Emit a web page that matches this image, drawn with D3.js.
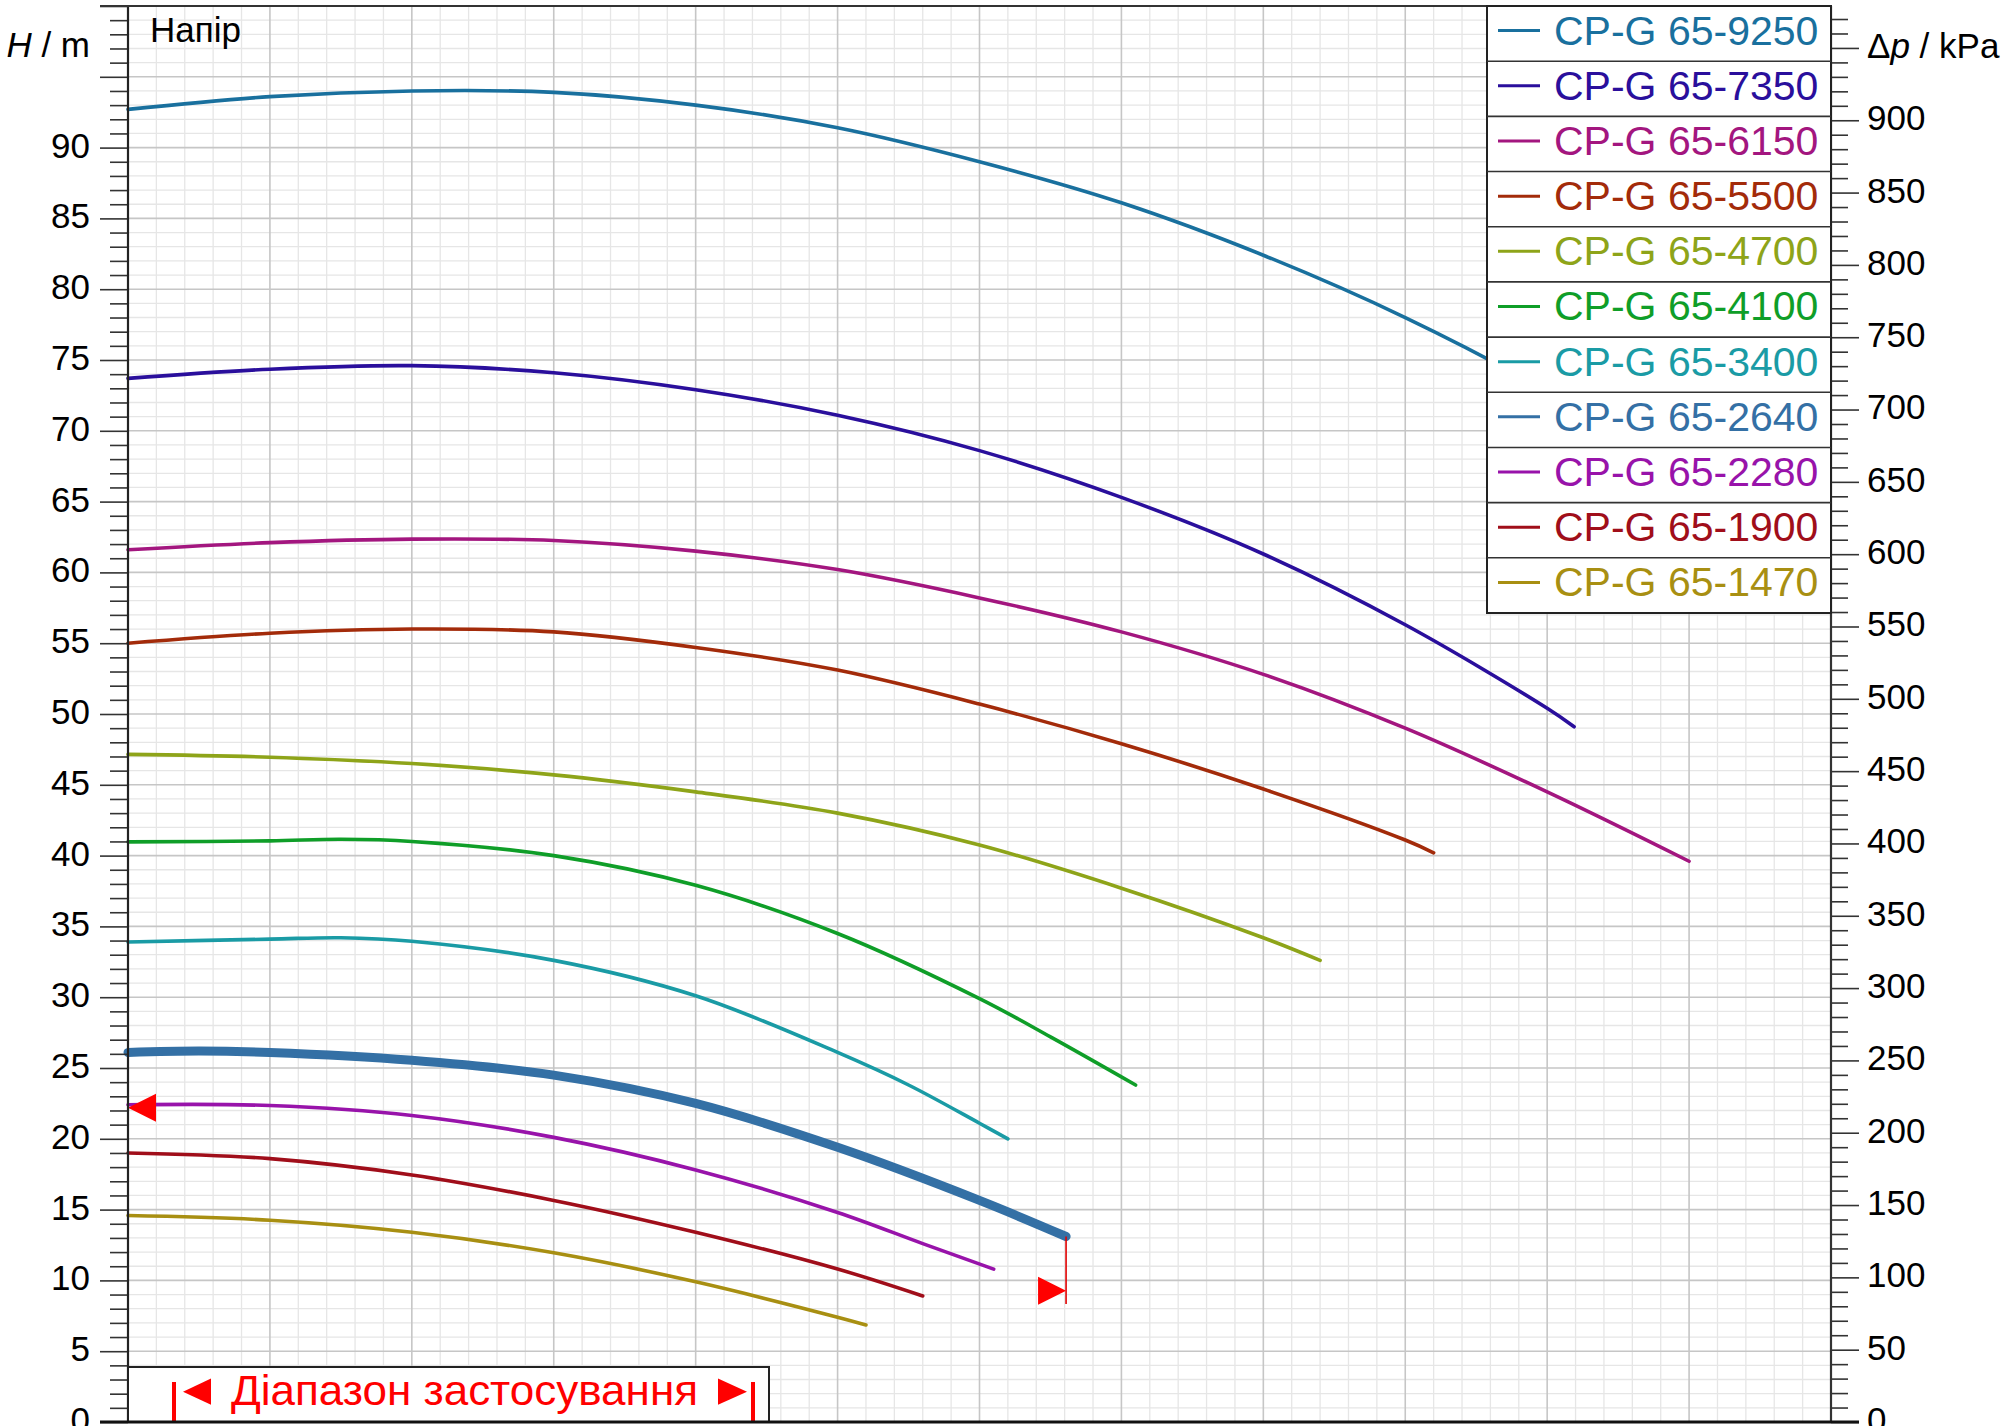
<!DOCTYPE html>
<html>
<head>
<meta charset="utf-8">
<script src="https://cdn.jsdelivr.net/npm/d3@7"></script>
<style>
body { margin: 0; background: #fff; }
svg text { font-family: "Liberation Sans", Arial, sans-serif; }
</style>
</head>
<body>
<div id="chart"></div>
<script>
// pump curves, flow Q (m3/h) against head H (m)
var pumpNames = ["CP-G 65-9250", "CP-G 65-7350", "CP-G 65-6150", "CP-G 65-5500",
  "CP-G 65-4700", "CP-G 65-4100", "CP-G 65-3400", "CP-G 65-2640",
  "CP-G 65-2280", "CP-G 65-1900", "CP-G 65-1470"];

var curve9250 = [[0, 92.7], [10, 93.6], [20, 94.0], [30, 93.9], [40, 93.0], [50, 91.4], [60, 89.0],
  [70, 86.1], [80, 82.4], [90, 78.0], [100, 72.8], [110, 66.8], [114, 64.2]];
var curve7350 = [[0, 73.7], [10, 74.35], [20, 74.6], [30, 74.1], [40, 72.9], [50, 71.1], [60, 68.6],
  [70, 65.3], [80, 61.3], [90, 56.3], [100, 50.4], [101.9, 49.1]];
var curve6150 = [[0, 61.6], [10, 62.1], [20, 62.35], [30, 62.25], [40, 61.5], [50, 60.2], [60, 58.2],
  [70, 55.8], [80, 52.8], [90, 49.0], [100, 44.5], [110, 39.6]];
var curve5500 = [[0, 55.0], [10, 55.7], [20, 56.0], [30, 55.8], [40, 54.7], [50, 53.1], [60, 50.7],
  [70, 47.9], [80, 44.7], [90, 41.1], [92, 40.2]];
var curve4700 = [[0, 47.15], [10, 46.95], [20, 46.5], [30, 45.7], [40, 44.5], [50, 43.0], [60, 40.75],
  [70, 37.7], [80, 34.2], [84, 32.6]];
var curve4100 = [[0, 40.97], [10, 41.04], [15, 41.15], [20, 41.0], [30, 40.0], [40, 37.9], [50, 34.5],
  [60, 29.9], [65, 27.2], [71, 23.8]];
var curve3400 = [[0, 33.9], [10, 34.1], [15, 34.2], [20, 33.95], [30, 32.6], [40, 30.1], [50, 26.1],
  [55, 23.8], [60, 21.1], [62, 20.0]];
var curve2640 = [[0, 26.1], [5, 26.2], [10, 26.1], [20, 25.55], [30, 24.5], [40, 22.5], [50, 19.4],
  [60, 15.65], [66.1, 13.1]];
var curve2280 = [[0, 22.4], [10, 22.35], [20, 21.65], [30, 20.1], [40, 17.8], [50, 14.8], [56, 12.6],
  [61, 10.8]];
var curve1900 = [[0, 19.0], [10, 18.6], [20, 17.45], [30, 15.65], [40, 13.4], [50, 10.8], [56, 8.9]];
var curve1470 = [[0, 14.58], [10, 14.25], [20, 13.4], [30, 11.95], [40, 9.9], [50, 7.4], [52, 6.85]];

var curves = [curve9250, curve7350, curve6150, curve5500, curve4700, curve4100,
  curve3400, curve2640, curve2280, curve1900, curve1470];

var pumpColors = ["#19709e", "#2a0f9c", "#a3167f", "#a32b0a", "#8ea419", "#0f9e28",
  "#1a9ba5", "#3470a5", "#9813aa", "#a00e1a", "#a88f12"];
var selectedPump = "CP-G 65-2640";

// application range markers (Q, H)
var rangeStart = [0, 22.2];
var rangeEnd = [66.1, 13.1, 8.33, 9.27]; // q, line top, line bottom, arrow centre

var rangeLabel = "Діапазон застосування";
var rhoG = 9.79; // kPa per metre of head

var W = 2010, H = 1426;
var pLeft = 128, pRight = 1831, pTop = 6, pBottom = 1422;

var svg = d3.select("#chart").append("svg")
  .attr("width", W)
  .attr("height", H);

var x = d3.scaleLinear().domain([0, 120]).range([pLeft, pRight]);
var y = d3.scaleLinear().domain([0, 100]).range([pBottom, pTop]);
var yP = d3.scaleLinear().domain([0, 100 * rhoG]).range([pBottom, pTop]);

// grid
var grid = svg.append("g");
grid.selectAll(".vmin").data(d3.range(0, 121, 2).filter(d => d % 10 != 0))
  .enter().append("line")
  .attr("x1", d => x(d)).attr("x2", d => x(d))
  .attr("y1", pTop).attr("y2", pBottom)
  .attr("stroke", "#e6e6e6").attr("stroke-width", 1.3);
grid.selectAll(".hmin").data(d3.range(0, 101, 1).filter(d => d % 5 != 0))
  .enter().append("line")
  .attr("x1", pLeft).attr("x2", pRight)
  .attr("y1", d => y(d)).attr("y2", d => y(d))
  .attr("stroke", "#e6e6e6").attr("stroke-width", 1.3);
grid.selectAll(".vmaj").data(d3.range(10, 120, 10))
  .enter().append("line")
  .attr("x1", d => x(d)).attr("x2", d => x(d))
  .attr("y1", pTop).attr("y2", pBottom)
  .attr("stroke", "#c6c6c6").attr("stroke-width", 1.6);
grid.selectAll(".hmaj").data(d3.range(5, 100, 5))
  .enter().append("line")
  .attr("x1", pLeft).attr("x2", pRight)
  .attr("y1", d => y(d)).attr("y2", d => y(d))
  .attr("stroke", "#c6c6c6").attr("stroke-width", 1.6);

// curves
var line = d3.line()
  .x(d => x(d[0]))
  .y(d => y(d[1]))
  .curve(d3.curveCatmullRom.alpha(0.5));

svg.append("g").selectAll("path")
  .data(curves)
  .enter().append("path")
  .attr("d", line)
  .attr("fill", "none")
  .attr("stroke", (d, i) => pumpColors[i])
  .attr("stroke-width", (d, i) => pumpNames[i] == selectedPump ? 9 : 3.6)
  .attr("stroke-linecap", "round");

// range markers
var tri = 28;
svg.append("polygon")
  .attr("points", [
    [x(rangeStart[0]), y(rangeStart[1])],
    [x(rangeStart[0]) + tri, y(rangeStart[1]) - tri / 2],
    [x(rangeStart[0]) + tri, y(rangeStart[1]) + tri / 2]].join(" "))
  .attr("fill", "#ff0000");
svg.append("line")
  .attr("x1", x(rangeEnd[0])).attr("x2", x(rangeEnd[0]))
  .attr("y1", y(rangeEnd[1])).attr("y2", y(rangeEnd[2]))
  .attr("stroke", "#e00000").attr("stroke-width", 1.6);
svg.append("polygon")
  .attr("points", [
    [x(rangeEnd[0]), y(rangeEnd[3])],
    [x(rangeEnd[0]) - tri, y(rangeEnd[3]) - tri / 2],
    [x(rangeEnd[0]) - tri, y(rangeEnd[3]) + tri / 2]].join(" "))
  .attr("fill", "#ff0000");

// axes
function styleAxis(g, fs) {
  g.select(".domain").remove();
  g.selectAll(".tick line").attr("stroke", "#333").attr("stroke-width", 1.6);
  g.selectAll(".tick text").attr("font-size", fs).attr("fill", "#000").attr("dy", "0.27em")
    .attr("font-family", "'Liberation Sans', Arial, sans-serif");
}

var leftMinor = svg.append("g").attr("transform", "translate(" + pLeft + ",0)")
  .call(d3.axisLeft(y).tickValues(d3.range(0, 101, 1).filter(d => d % 5 != 0))
    .tickSize(18).tickFormat(""));
styleAxis(leftMinor, 35);
var leftMajor = svg.append("g").attr("transform", "translate(" + pLeft + ",0)")
  .call(d3.axisLeft(y).tickValues(d3.range(0, 101, 5))
    .tickSize(28).tickPadding(10).tickFormat(d => d <= 90 ? d : ""));
styleAxis(leftMajor, 35);

var rightMinor = svg.append("g").attr("transform", "translate(" + pRight + ",0)")
  .call(d3.axisRight(yP).tickValues(d3.range(0, 971, 10).filter(d => d % 50 != 0))
    .tickSize(17).tickFormat(""));
styleAxis(rightMinor, 35);
var rightMajor = svg.append("g").attr("transform", "translate(" + pRight + ",0)")
  .call(d3.axisRight(yP).tickValues(d3.range(0, 951, 50))
    .tickSize(28).tickPadding(8).tickFormat(d => d <= 900 ? d : ""));
styleAxis(rightMajor, 35);

// frame
svg.append("line").attr("x1", pLeft).attr("x2", pLeft).attr("y1", pTop).attr("y2", pBottom)
  .attr("stroke", "#222").attr("stroke-width", 2.2);
svg.append("line").attr("x1", pRight).attr("x2", pRight).attr("y1", pTop).attr("y2", pBottom)
  .attr("stroke", "#333").attr("stroke-width", 2.2);
svg.append("line").attr("x1", pLeft - 28).attr("x2", pRight).attr("y1", pTop).attr("y2", pTop)
  .attr("stroke", "#333").attr("stroke-width", 2);

// axis titles
var ht = svg.append("text").attr("x", 90).attr("y", 57).attr("text-anchor", "end")
  .attr("font-size", 35);
ht.append("tspan").attr("font-style", "italic").text("H");
ht.append("tspan").text(" /  m");

svg.append("text").attr("x", 150).attr("y", 42).attr("font-size", 35).text("Напір");

var pt = svg.append("text").attr("x", 1867).attr("y", 58).attr("font-size", 35);
pt.append("tspan").text("Δ");
pt.append("tspan").attr("font-style", "italic").text("p");
pt.append("tspan").text(" / kPa");

// legend
var legX = 1487, rowH = (613 - pTop) / pumpNames.length;
var legend = svg.append("g");
legend.append("rect")
  .attr("x", legX).attr("y", pTop)
  .attr("width", pRight - legX).attr("height", rowH * pumpNames.length)
  .attr("fill", "#fff").attr("stroke", "#222").attr("stroke-width", 2);
var rows = legend.selectAll(".row").data(pumpNames).enter().append("g")
  .attr("transform", (d, i) => "translate(" + legX + "," + (pTop + i * rowH) + ")");
rows.filter((d, i) => i > 0).append("line")
  .attr("x1", 0).attr("x2", pRight - legX).attr("y1", 0).attr("y2", 0)
  .attr("stroke", "#333").attr("stroke-width", 1.6);
rows.append("line")
  .attr("x1", 11).attr("x2", 53).attr("y1", rowH / 2 - 3).attr("y2", rowH / 2 - 3)
  .attr("stroke", (d, i) => pumpColors[i]).attr("stroke-width", 3);
rows.append("text")
  .attr("x", 67).attr("y", rowH / 2 + 11)
  .attr("font-size", 41)
  .attr("fill", (d, i) => pumpColors[i])
  .text(d => d);

// application range box
var boxTop = 1367, boxRight = 769;
var rangeBox = svg.append("g");
rangeBox.append("rect")
  .attr("x", pLeft).attr("y", boxTop)
  .attr("width", boxRight - pLeft).attr("height", pBottom - boxTop)
  .attr("fill", "#fff").attr("stroke", "#222").attr("stroke-width", 2);
rangeBox.append("line").attr("x1", 174).attr("x2", 174).attr("y1", 1382).attr("y2", pBottom)
  .attr("stroke", "#ff0000").attr("stroke-width", 4);
rangeBox.append("polygon").attr("points", "183,1391.7 211,1378.6 211,1404.8").attr("fill", "#ff0000");
rangeBox.append("text").attr("x", 231).attr("y", 1405)
  .attr("font-size", 42).attr("fill", "#ff0000")
  .attr("textLength", 467).attr("lengthAdjust", "spacingAndGlyphs")
  .text(rangeLabel);
rangeBox.append("polygon").attr("points", "718,1378.6 747,1391.7 718,1404.8").attr("fill", "#ff0000");
rangeBox.append("line").attr("x1", 753).attr("x2", 753).attr("y1", 1382).attr("y2", pBottom)
  .attr("stroke", "#ff0000").attr("stroke-width", 4);

// bottom edge, drawn over the box
svg.append("line").attr("x1", pLeft - 28).attr("x2", pRight + 28).attr("y1", pBottom).attr("y2", pBottom)
  .attr("stroke", "#111").attr("stroke-width", 3);
</script>
</body>
</html>
